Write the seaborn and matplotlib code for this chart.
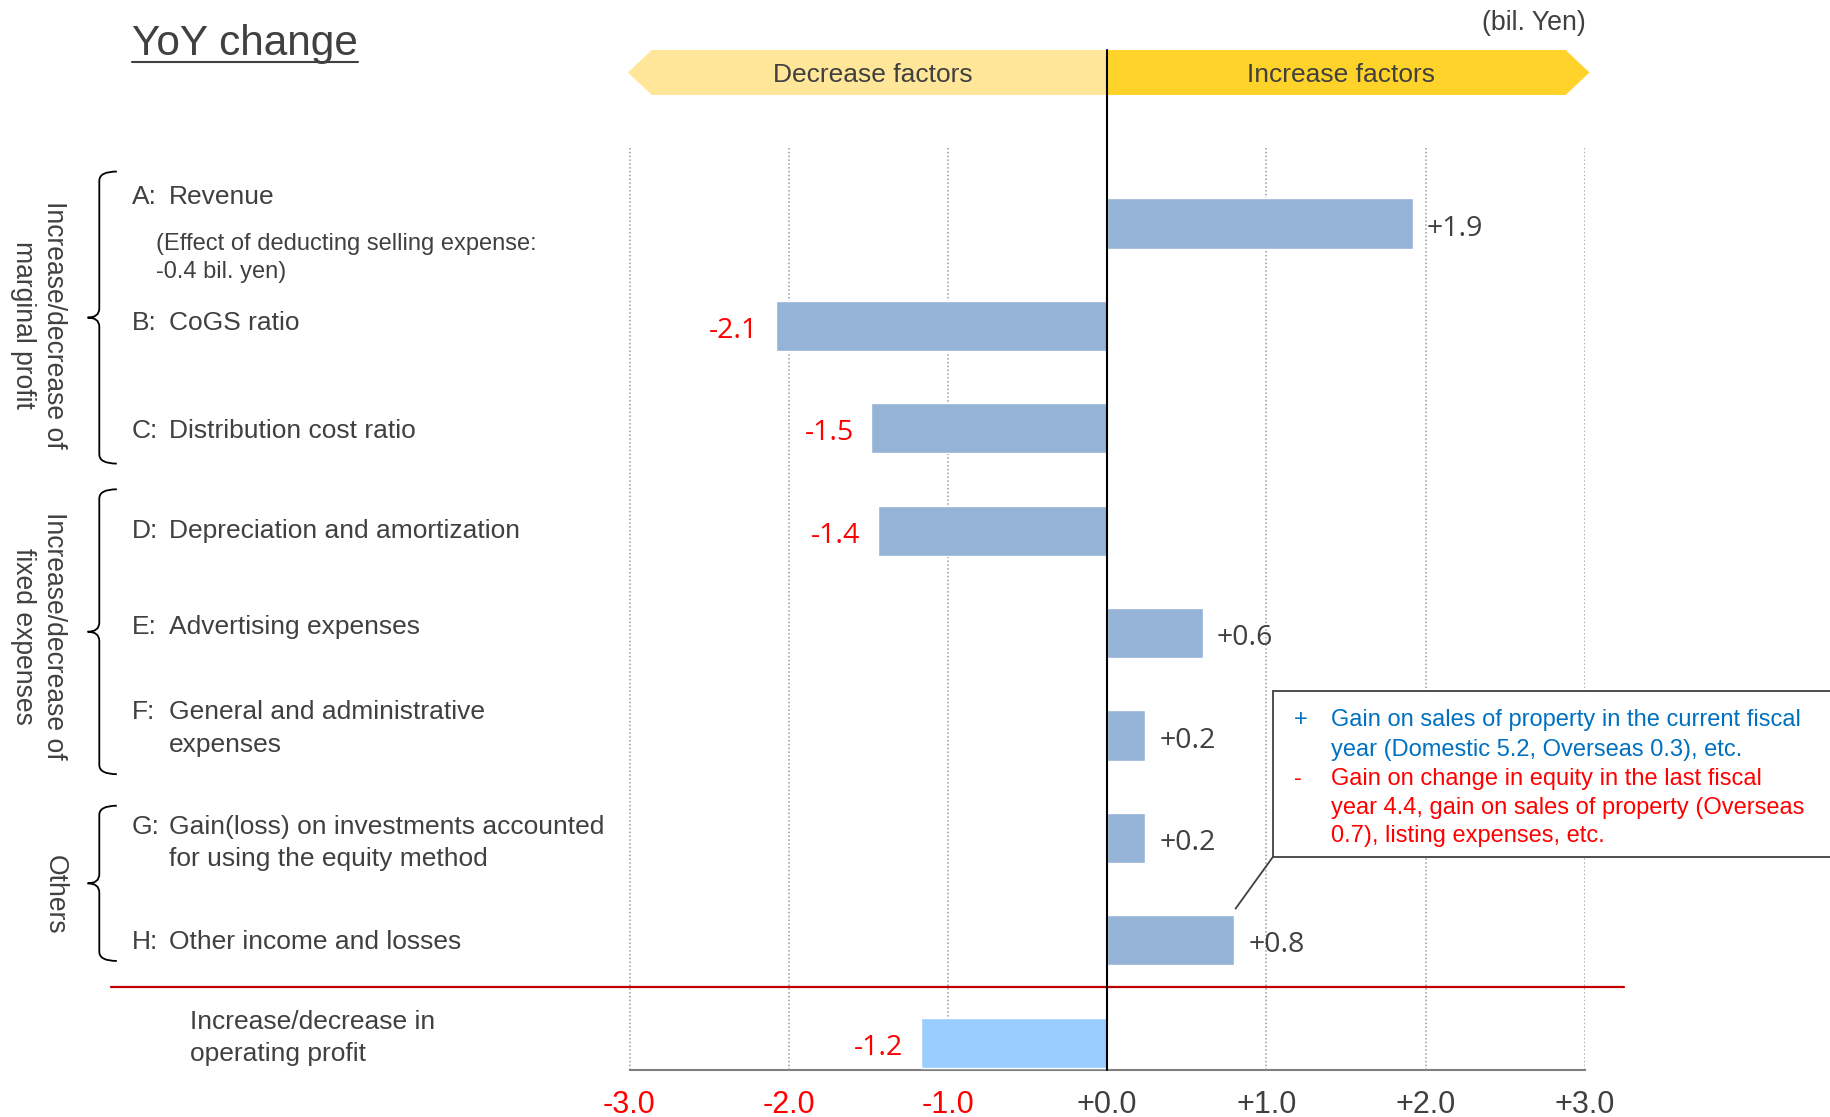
import numpy as np
import pandas as pd
import matplotlib
matplotlib.use("Agg")
import matplotlib.pyplot as plt
import matplotlib.transforms as mtrans
from matplotlib.path import Path
from matplotlib.patches import PathPatch, Polygon, Rectangle
import seaborn as sns

# ---------------- data ----------------
categories = ["A", "B", "C", "D", "E", "F", "G", "H", "Total"]
prefixes = ["A:", "B:", "C:", "D:", "E:", "F:", "G:", "H:", ""]
label_texts = ["Revenue", "CoGS ratio", "Distribution cost ratio",
               "Depreciation and amortization", "Advertising expenses",
               "General and administrative\nexpenses",
               "Gain(loss) on investments accounted\nfor using the equity method",
               "Other income and losses",
               "Increase/decrease in\noperating profit"]
values = [1.92, -2.08, -1.48, -1.44, 0.60, 0.24, 0.24, 0.80, -1.17]
value_labels = ["+1.9", "-2.1", "-1.5", "-1.4", "+0.6", "+0.2", "+0.2", "+0.8", "-1.2"]
tick_values = [-3, -2, -1, 0, 1, 2, 3]
tick_labels = ["-3.0", "-2.0", "-1.0", "+0.0", "+1.0", "+2.0", "+3.0"]
group_labels = ["Increase/decrease of\nmarginal profit",
                "Increase/decrease of\nfixed expenses",
                "Others"]
note_revenue = ["(Effect of deducting selling expense:", "-0.4 bil. yen)"]
box_plus_lines = ["Gain on sales of property in the current fiscal",
                  "year (Domestic 5.2, Overseas 0.3), etc."]
box_minus_lines = ["Gain on change in equity in the last fiscal",
                   "year 4.4, gain on sales of property (Overseas",
                   "0.7), listing expenses, etc."]

# ---------------- style ----------------
sns.set_style("white")
plt.rcParams['font.family'] = ['Liberation Sans', 'DejaVu Sans']

DARK = "#404040"
RED = "#FF0000"
BLUE = "#0070C0"
BAR = "#95B3D7"
TOTAL = "#99CCFF"
bar_colors = {c: (TOTAL if c == "Total" else BAR) for c in categories}

W, H = 1831, 1117
fig = plt.figure(figsize=(W / 100, H / 100), dpi=100)
ax = fig.add_axes([629.5 / W, 1 - 1069.6 / H, (1584.7 - 629.5) / W, (1069.6 - 148) / H])

df = pd.DataFrame({"cat": categories, "value": values})
sns.barplot(data=df, x="value", y="cat", hue="cat", palette=bar_colors,
            saturation=1, width=0.49, orient="h", legend=False, ax=ax, zorder=3)

YB, YT = 8.262, -0.738
ax.set_xlim(-3, 3)
ax.set_ylim(YB, YT)
ax.set_yticks([])
ax.set_ylabel("")
ax.set_xlabel("")
ax.set_xticks(tick_values, tick_labels)
for lbl, v in zip(ax.get_xticklabels(), tick_values):
    lbl.set_color(RED if v < 0 else DARK)
for s in ["left", "right", "top"]:
    ax.spines[s].set_visible(False)
ax.spines["bottom"].set_color("#808080")
ax.spines["bottom"].set_linewidth(1.5)
ax.tick_params(axis="x", length=6, width=1.2, color="#808080", pad=8.5, labelsize=22)

for v in tick_values:
    if v != 0:
        ax.axvline(v, color="#9a9a9a", ls=(0, (1, 1.5)), lw=1.1, zorder=0)

# zero line extending up through the header
ax.plot([0, 0], [YB, -1.695], color="black", lw=1.5, clip_on=False, zorder=6)

# header arrows (x in data, y in figure)
tr_hdr = mtrans.blended_transform_factory(ax.transData, fig.transFigure)
top_y, bot_y = 1 - 50 / H, 1 - 95 / H
mid_y = (top_y + bot_y) / 2
ax.add_patch(Polygon([(-3.01, mid_y), (-2.86, top_y), (0, top_y), (0, bot_y), (-2.86, bot_y)],
                     closed=True, facecolor="#FFE699", edgecolor="none",
                     transform=tr_hdr, clip_on=False, zorder=4))
ax.add_patch(Polygon([(0, top_y), (2.88, top_y), (3.03, mid_y), (2.88, bot_y), (0, bot_y)],
                     closed=True, facecolor="#FFD32A", edgecolor="none",
                     transform=tr_hdr, clip_on=False, zorder=4))
ax.text(-1.47, mid_y - 0.002, "Decrease factors", transform=tr_hdr, ha="center", va="center",
        fontsize=19, color=DARK, zorder=5)
ax.text(1.47, mid_y - 0.002, "Increase factors", transform=tr_hdr, ha="center", va="center",
        fontsize=19, color=DARK, zorder=5)

# value labels
for i, (v, lab) in enumerate(zip(values, value_labels)):
    if v >= 0:
        ax.text(v + 0.09, i + 0.05, lab, ha="left", va="center", fontsize=20.5,
                color=DARK, family=["Open Sans", "DejaVu Sans"], zorder=7)
    else:
        ax.text(v - 0.11, i + 0.05, lab, ha="right", va="center", fontsize=20.5,
                color=RED, family=["Open Sans", "DejaVu Sans"], zorder=7)

# category labels (x in figure, y in data); prefix sits on the first line
tr_lab = mtrans.blended_transform_factory(fig.transFigure, ax.transData)
first_line_y = [-0.256, 0.974, 2.024, 3.005, 3.94, 4.772, 5.89, 7.019, 7.795]
LINE_STEP = 0.319
for i, (p, t) in enumerate(zip(prefixes, label_texts)):
    y0 = first_line_y[i]
    x_text = 169 / W if p else 190 / W
    if p:
        ax.text(132 / W, y0, p, transform=tr_lab, ha="left", va="center",
                fontsize=19, color=DARK, clip_on=False)
    for k, line in enumerate(t.split("\n")):
        ax.text(x_text, y0 + k * LINE_STEP, line, transform=tr_lab, ha="left",
                va="center", fontsize=19, color=DARK, clip_on=False)
for k, line in enumerate(note_revenue):
    ax.text(156.5 / W, 0.20 + k * 0.273, line, transform=tr_lab, ha="left", va="center",
            fontsize=17, color=DARK, clip_on=False)

# brackets
def brace(y0, y1, xl=99.3 / W, xh=116.8 / W, xt=87.6 / W, r=0.09):
    ym = (y0 + y1) / 2
    verts = [(xh, y0), (xl, y0), (xl, y0 + r), (xl, ym - r), (xl, ym), (xt, ym),
             (xl, ym), (xl, ym + r), (xl, y1 - r), (xl, y1), (xh, y1)]
    codes = [Path.MOVETO, Path.CURVE3, Path.CURVE3, Path.LINETO, Path.CURVE3, Path.CURVE3,
             Path.CURVE3, Path.CURVE3, Path.LINETO, Path.CURVE3, Path.CURVE3]
    ax.add_patch(PathPatch(Path(verts, codes), facecolor="none", edgecolor="black",
                           lw=1.3, transform=tr_lab, clip_on=False))
    return ym

brace_spans = [(-0.508, 2.344), (2.595, 5.377), (5.685, 7.201)]
group_x = [38.5 / W, 38.5 / W, 55 / W]
group_y = [0.99, 4.03, 6.552]
for (y0, y1), gl, gx, gy in zip(brace_spans, group_labels, group_x, group_y):
    brace(y0, y1)
    ax.text(gx, gy, gl, transform=tr_lab, rotation=270, ha="center", va="center",
            fontsize=19.1, color=DARK, linespacing=1.22, clip_on=False)

# red separator
ax.plot([111 / W, 1624 / W], [7.452, 7.452], transform=tr_lab, color="#C00000",
        lw=1.6, clip_on=False, zorder=5)

# annotation box
ax.add_patch(Rectangle((1.041, 4.567), 5.0, 6.186 - 4.567, facecolor="white",
                       edgecolor=DARK, lw=1.3, clip_on=False, zorder=6))
ax.plot([1.041, 0.807], [6.186, 6.69], color=DARK, lw=1.3, clip_on=False, zorder=6)
box_y = [4.851, 5.137, 5.423, 5.709, 5.983]
ax.text(1.173, box_y[0], "+", ha="left", va="center", fontsize=17, color=BLUE, zorder=7)
ax.text(1.173, box_y[2], "-", ha="left", va="center", fontsize=17, color=RED, zorder=7)
for y, t in zip(box_y[:2], box_plus_lines):
    ax.text(1.407, y, t, ha="left", va="center", fontsize=17, color=BLUE, zorder=7, clip_on=False)
for y, t in zip(box_y[2:], box_minus_lines):
    ax.text(1.407, y, t, ha="left", va="center", fontsize=17, color=RED, zorder=7, clip_on=False)

# title + unit
title = fig.text(132 / W, 1 - 44.4 / H, "YoY change", fontsize=30.5, color=DARK,
                 ha="left", va="center")
fig.text(1585.7 / W, 1 - 23.3 / H, "(bil. Yen)", fontsize=19.3, color=DARK,
         ha="right", va="center")
fig.canvas.draw()
bb = title.get_window_extent()
fig.add_artist(plt.Line2D([bb.x0 / W, bb.x1 / W], [1 - 61.5 / H, 1 - 61.5 / H],
                          transform=fig.transFigure, color=DARK, lw=1.5))

fig.savefig("out.png", dpi=100)
